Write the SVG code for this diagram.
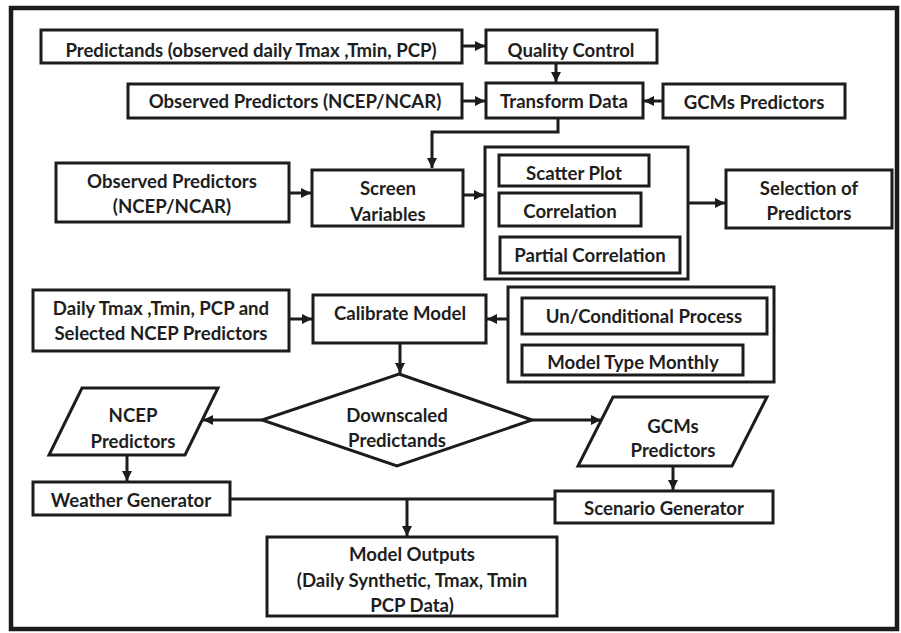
<svg xmlns="http://www.w3.org/2000/svg" width="901" height="633" viewBox="0 0 901 633">
<style>
.b{fill:#fff;stroke:#1c1c1c;stroke-width:3}
.c{fill:none;stroke:#1c1c1c;stroke-width:3}
text{font-family:Lato,"Liberation Sans",sans-serif;font-weight:bold;font-size:18.6px;fill:#1e1e1e;text-anchor:middle}
</style>
<defs>
<marker id="ah" viewBox="0 0 10 10" refX="10" refY="5" markerWidth="10" markerHeight="10" markerUnits="userSpaceOnUse" orient="auto">
<path d="M0,0 L10,5 L0,10 z" fill="#1c1c1c"/>
</marker>
</defs>
<rect x="0" y="0" width="901" height="633" fill="#fff"/>
<rect x="11" y="8" width="886" height="621" fill="none" stroke="#1c1c1c" stroke-width="4.5"/>
<g id="connectors">
<path class="c" d="M462,46 H485" marker-end="url(#ah)"/>
<path class="c" d="M556,63 V82" marker-end="url(#ah)"/>
<path class="c" d="M462,101 H485" marker-end="url(#ah)"/>
<path class="c" d="M663,101 H644" marker-end="url(#ah)"/>
<path class="c" d="M558,118 V132 H432 V168" marker-end="url(#ah)"/>
<path class="c" d="M289,193 H311" marker-end="url(#ah)"/>
<path class="c" d="M463,195 H484" marker-end="url(#ah)"/>
<path class="c" d="M688,203 H725" marker-end="url(#ah)"/>
<path class="c" d="M289,319 H312" marker-end="url(#ah)"/>
<path class="c" d="M508,319 H487" marker-end="url(#ah)"/>
<path class="c" d="M400,343 V373" marker-end="url(#ah)"/>
<path class="c" d="M262,420 H203" marker-end="url(#ah)"/>
<path class="c" d="M532,420 H601" marker-end="url(#ah)"/>
<path class="c" d="M127,455 V481" marker-end="url(#ah)"/>
<path class="c" d="M673,466 V490" marker-end="url(#ah)"/>
<path class="c" d="M230,499 H555"/>
<path class="c" d="M407,499 V536" marker-end="url(#ah)"/>
</g>
<g id="predictands"><rect class="b" x="41" y="30" width="421" height="33"/><text x="251" y="57">Predictands (observed daily Tmax ,Tmin, PCP)</text></g>
<g id="quality"><rect class="b" x="486" y="30" width="171" height="33"/><text x="571" y="57">Quality Control</text></g>
<g id="obs1"><rect class="b" x="128" y="84" width="334" height="34"/><text x="295" y="108">Observed Predictors (NCEP/NCAR)</text></g>
<g id="transform"><rect class="b" x="486" y="83" width="157" height="35"/><text x="564" y="108">Transform Data</text></g>
<g id="gcm1"><rect class="b" x="663" y="84" width="182" height="34"/><text x="754" y="109">GCMs Predictors</text></g>
<g id="obs2"><rect class="b" x="56" y="163" width="233" height="59"/><text x="172" y="188">Observed Predictors</text><text x="172" y="213">(NCEP/NCAR)</text></g>
<g id="screen"><rect class="b" x="312" y="170" width="151" height="56"/><text x="388" y="195">Screen</text><text x="388" y="221">Variables</text></g>
<g id="screening">
<rect class="b" x="485" y="147" width="203" height="132"/>
<rect class="b" x="499" y="155" width="150" height="31"/><text x="574" y="180">Scatter Plot</text>
<rect class="b" x="499" y="193" width="142" height="33"/><text x="570" y="218">Correlation</text>
<rect class="b" x="500" y="237" width="180" height="36"/><text x="590" y="262">Partial Correlation</text>
</g>
<g id="selection"><rect class="b" x="726" y="170" width="166" height="58"/><text x="809" y="195">Selection of</text><text x="809" y="220">Predictors</text></g>
<g id="daily"><rect class="b" x="33" y="290" width="256" height="61"/><text x="161" y="315">Daily Tmax ,Tmin, PCP and</text><text x="161" y="340">Selected NCEP Predictors</text></g>
<g id="calibrate"><rect class="b" x="313" y="295" width="173" height="48"/><text x="400" y="320">Calibrate Model</text></g>
<g id="options">
<rect class="b" x="508" y="287" width="266" height="95"/>
<rect class="b" x="522" y="298" width="245" height="36"/><text x="644" y="323">Un/Conditional Process</text>
<rect class="b" x="522" y="345" width="221" height="30"/><text x="633" y="369">Model Type Monthly</text>
</g>
<g id="downscaled"><polygon class="b" points="399,374 532,420 397,466 262,420"/><text x="397" y="422">Downscaled</text><text x="397" y="447">Predictands</text></g>
<g id="ncep"><polygon class="b" points="82,388 218,388 185,455 49,455"/><text x="133" y="422">NCEP</text><text x="133" y="448">Predictors</text></g>
<g id="gcm2"><polygon class="b" points="613,397 767,397 732,466 578,466"/><text x="673" y="433">GCMs</text><text x="673" y="457">Predictors</text></g>
<g id="weather"><rect class="b" x="33" y="482" width="197" height="33"/><text x="131" y="507">Weather Generator</text></g>
<g id="scenario"><rect class="b" x="555" y="491" width="218" height="32"/><text x="664" y="515">Scenario Generator</text></g>
<g id="outputs"><rect class="b" x="267" y="537" width="290" height="79"/><text x="412" y="561">Model Outputs</text><text x="412" y="587">(Daily Synthetic, Tmax, Tmin</text><text x="412" y="612">PCP Data)</text></g>
</svg>
